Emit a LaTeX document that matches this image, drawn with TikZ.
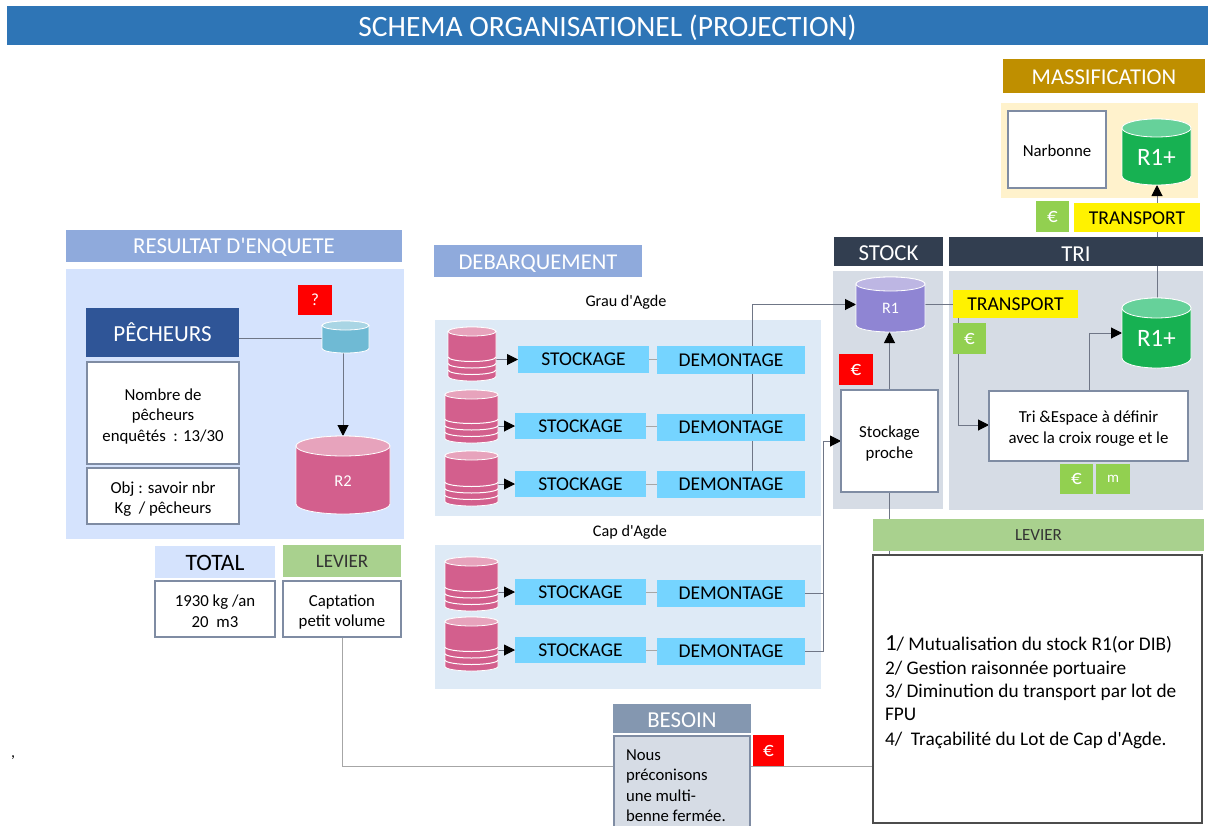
\documentclass[tikz,border=0pt]{standalone}
\usepackage{fontspec}
\setmainfont{Carlito}[Ligatures=TeXOff]
\usetikzlibrary{arrows.meta,calc}
\pgfdeclarelayer{panels}
\pgfdeclarelayer{links}
\pgfsetlayers{panels,links,main}
\definecolor{titleblue}{HTML}{2E75B6}
\definecolor{headblue}{HTML}{8FAADC}
\definecolor{paleblue}{HTML}{D5E3FD}
\definecolor{palesea}{HTML}{DEEAF6}
\definecolor{navy}{HTML}{2F5597}
\definecolor{slate}{HTML}{323E50}
\definecolor{palegray}{HTML}{D6DCE5}
\definecolor{gold}{HTML}{BF8F00}
\definecolor{cream}{HTML}{FFF2CC}
\definecolor{leaf}{HTML}{A9D18E}
\definecolor{eurogreen}{HTML}{92D050}
\definecolor{sky}{HTML}{75D4FF}
\definecolor{besoingray}{HTML}{8497B0}
\definecolor{rimgray}{HTML}{7F8CA3}
\definecolor{linkgray}{HTML}{6F7686}
\definecolor{rose}{HTML}{D35F8D}
\definecolor{rosetop}{HTML}{E7A3BC}
\definecolor{violet}{HTML}{8F85D3}
\definecolor{violettop}{HTML}{BDB6E3}
\definecolor{green1}{HTML}{17B152}
\definecolor{green1top}{HTML}{66D19A}
\definecolor{teal1}{HTML}{6FBAD4}
\definecolor{teal1top}{HTML}{A9D5E4}
\tikzset{
  x=1pt,y=-1pt,
  every node/.style={inner sep=0pt,outer sep=0pt,align=center},
  fs/.style={font=\fontsize{#1}{20.5}\selectfont},
  link/.style={draw=linkgray,line width=1pt},
  arrowlink/.style={link,-{Triangle[length=11pt,width=11pt,black]}},
  stoggle/.style={fill=sky,draw=none,fs=19.5},
}
% pushes the text of a node down by about #1 pt
\newcommand\dn[1]{\rule{0pt}{\dimexpr 0.75em+#1pt+#1pt\relax}}
% label of a cylinder: size, downward shift, text
\newcommand\cyltext[3]{\fontsize{#1}{#1}\selectfont\raisebox{-#2pt}[\height][\depth]{#3}}
% rectangle node from its corners: name, x1, y1, x2, y2, style, text
\newcommand\boxnode[7]{%
  \pgfmathsetmacro\bw{#4-#2}\pgfmathsetmacro\bh{#5-#3}%
  \pgfmathsetmacro\bx{(#2+#4)/2}\pgfmathsetmacro\by{(#3+#5)/2}%
  \node[minimum width=\bw pt,minimum height=\bh pt,#6] (#1) at (\bx,\by) {#7};}
% cylinder: name, x1, y1, x2, y2, body, top, ry, label
\newcommand\dbcyl[9]{%
  \pgfmathsetmacro\cw{#4-#2}\pgfmathsetmacro\ch{#5-#3}%
  \pgfmathsetmacro\cx{(#2+#4)/2}\pgfmathsetmacro\cy{(#3+#5)/2}%
  \pgfmathsetmacro\crx{(#4-#2)/2}%
  \pgfmathsetmacro\cya{#3+#8}\pgfmathsetmacro\cyb{#5-#8}%
  \draw[white,line width=0.8pt,fill=#6] (#2,\cya) -- (#2,\cyb)
     arc[start angle=180,end angle=360,x radius=\crx pt,y radius=#8 pt]
     -- (#4,\cya) arc[start angle=0,end angle=180,x radius=\crx pt,y radius=#8 pt] -- cycle;
  \draw[white,line width=0.8pt,fill=#7] (\cx,\cya) ellipse[x radius=\crx pt,y radius=#8 pt];
  \node[minimum width=\cw pt,minimum height=\ch pt,text=white] (#1) at (\cx,\cy) {#9};}
% three discs at the foot of a cylinder: x1, x2, y2, ry
\newcommand\dbdiscs[4]{%
  \pgfmathsetmacro\crx{(#2-#1)/2}%
  \foreach \off in {6.5,13,19.5}{%
    \pgfmathsetmacro\dy{#3-#4-\off}%
    \draw[white,line width=1pt] (#1,\dy) arc[start angle=180,end angle=360,x radius=\crx pt,y radius=#4 pt];}}
\begin{document}
\begin{tikzpicture}
\useasboundingbox (0,0) rectangle (1208,825);
% panels
\begin{pgfonlayer}{panels}
\fill[white] (0,0) rectangle (1208,825);
\fill[paleblue] (66,269) rectangle (404,539);
\fill[palesea] (435,320) rectangle (821,516);
\fill[palesea] (435,545) rectangle (821,689);
\fill[palegray] (833,271) rectangle (943,509);
\fill[palegray] (949,271) rectangle (1203,510);
\fill[cream] (1001,103) rectangle (1198,198);
\end{pgfonlayer}
% headers
\boxnode{title}{7}{6}{1208}{45}{fill=titleblue,text=white,fs=29.5}{\dn{2}SCHEMA ORGANISATIONEL (PROJECTION)}
\boxnode{massif}{1003}{59}{1205}{93}{fill=gold,text=white,fs=22.6}{\dn{0}MASSIFICATION}
\boxnode{resultat}{66}{230}{402}{262}{fill=headblue,text=white,fs=22.8}{\dn{0}RESULTAT D'ENQUETE}
\boxnode{debarq}{434}{245}{642}{277}{fill=headblue,text=white,fs=22.6}{\dn{1.5}DEBARQUEMENT}
\boxnode{stockh}{834}{237}{943}{266}{fill=slate,text=white,fs=22.8}{\dn{1}STOCK}
\boxnode{trih}{949}{237}{1203}{266}{fill=slate,text=white,fs=22.8}{\dn{1}TRI}
% left part
\boxnode{pecheurs}{86}{308}{239}{357}{fill=navy,text=white,fs=23}{PÊCHEURS}
\boxnode{nombre}{87}{362}{239}{464}{fill=white,draw=rimgray,line width=1.2pt,fs=16.8}{\dn{3}Nombre de\\pêcheurs\\enquêtés~ : 13/30}
\boxnode{obj}{87}{468}{239}{524}{fill=white,draw=rimgray,line width=1.2pt,fs=16.8}{\dn{2.5}Obj : savoir nbr\\Kg~ / pêcheurs}
\boxnode{quest}{298}{285}{332}{315}{fill=red,text=white,fs=17}{?}
\dbcyl{small}{322}{321}{369}{353}{teal1}{teal1top}{4.5}{}
\dbcyl{rtwo}{296}{436}{390}{514}{rose}{rosetop}{10}{\cyltext{16.5}{6}{R2}}
\boxnode{total}{155}{546}{275}{578}{fill=paleblue,fs=23.5}{\dn{0}TOTAL}
\boxnode{totalbox}{155}{581}{275}{637}{fill=white,draw=rimgray,line width=1.2pt,fs=16.8}{\dn{1.5}1930 kg /an\\20~ m3}
\boxnode{levierl}{283}{545}{401}{577}{fill=leaf,text=black!80,fs=19}{LEVIER}
\boxnode{levierlbox}{283}{581}{401}{637}{fill=white,draw=rimgray,line width=1.2pt,fs=16.8}{\dn{2.5}Captation\\petit volume}
% debarquement
\node[fs=16.2] (grau) at (626,302) {Grau d'Agde};
\node[fs=16.2] (cap) at (630,532) {Cap d'Agde};
\dbcyl{cA}{448}{327}{496}{381}{rose}{rosetop}{4.5}{}
\dbdiscs{448}{496}{381}{4.5}
\dbcyl{cB}{445}{390}{498}{443}{rose}{rosetop}{4.5}{}
\dbdiscs{445}{498}{443}{4.5}
\dbcyl{cC}{445}{451}{498}{506}{rose}{rosetop}{4.5}{}
\dbdiscs{445}{498}{506}{4.5}
\dbcyl{cD}{445}{557}{498}{611}{rose}{rosetop}{4.5}{}
\dbdiscs{445}{498}{611}{4.5}
\dbcyl{cE}{445}{617}{498}{671}{rose}{rosetop}{4.5}{}
\dbdiscs{445}{498}{671}{4.5}
\boxnode{sA}{518}{346}{649}{373}{stoggle}{STOCKAGE}
\boxnode{sB}{515}{413}{646}{439}{stoggle}{STOCKAGE}
\boxnode{sC}{515}{471}{646}{497}{stoggle}{STOCKAGE}
\boxnode{sD}{515}{579}{646}{605}{stoggle}{STOCKAGE}
\boxnode{sE}{515}{637}{646}{663}{stoggle}{STOCKAGE}
\boxnode{dA}{657}{346}{805}{374}{stoggle}{DEMONTAGE}
\boxnode{dB}{657}{414}{805}{441}{stoggle}{DEMONTAGE}
\boxnode{dC}{657}{471}{805}{498}{stoggle}{DEMONTAGE}
\boxnode{dD}{657}{580}{805}{607}{stoggle}{DEMONTAGE}
\boxnode{dE}{657}{638}{805}{665}{stoggle}{DEMONTAGE}
% stock
\dbcyl{rone}{856}{277}{925}{332}{violet}{violettop}{7}{\cyltext{16}{4}{R1}}
\boxnode{euroS}{839}{354}{873}{385}{fill=red,text=white,fs=21}{€}
\boxnode{proche}{841}{390}{938}{492}{fill=white,draw=rimgray,line width=1.2pt,fs=16.8}{\dn{2}Stockage\\proche}
% tri
\boxnode{transA}{953}{290}{1078}{318}{fill=yellow,fs=19.6}{TRANSPORT}
\boxnode{euroT}{953}{323}{986}{354}{fill=eurogreen,text=white,fs=21}{€}
\dbcyl{rplusA}{1122}{298}{1191}{368}{green1}{green1top}{10}{\cyltext{25}{5.5}{R1+}}
\boxnode{tribox}{989}{391}{1188}{461}{fill=white,draw=rimgray,line width=1.2pt,fs=16.8}{\dn{2}Tri \&Espace à définir\\avec la croix rouge et le}
\boxnode{euroU}{1060}{464}{1093}{494}{fill=eurogreen,text=white,fs=21}{€}
\boxnode{metre}{1096}{464}{1130}{494}{fill=eurogreen,text=white,fs=15}{m}
% massification
\boxnode{narbonne}{1008}{111}{1106}{188}{fill=white,draw=rimgray,line width=1.2pt,fs=16.8}{\dn{1}Narbonne}
\dbcyl{rplusB}{1122}{119}{1191}{185}{green1}{green1top}{9}{\cyltext{25}{5.5}{R1+}}
\boxnode{transB}{1074}{203}{1200}{232}{fill=yellow,fs=19.6}{\dn{0}TRANSPORT}
\boxnode{euroV}{1036}{201}{1069}{232}{fill=eurogreen,text=white,fs=21}{€}
% levier
\boxnode{levierr}{873}{519}{1204}{551}{fill=leaf,text=black!80,fs=17}{LEVIER}
\boxnode{levierbox}{873}{555}{1202}{823}{fill=white,draw=black!70,line width=1.2pt}{}
\node[anchor=base west,fs=19.3] (lA) at (885,650) {{\fontsize{23}{26}\selectfont 1}/ Mutualisation du stock R1(or DIB)};
\node[anchor=base west,fs=19.3] (lB) at (885,674) {2/ Gestion raisonnée portuaire};
\node[anchor=base west,fs=19.3] (lC) at (885,697) {3/ Diminution du transport par lot de};
\node[anchor=base west,fs=19.3] (lD) at (885,720) {FPU};
\node[anchor=base west,fs=19.3] (lE) at (885,745) {4/~ Traçabilité du Lot de Cap d'Agde.};
% besoin
\boxnode{besoin}{613}{704}{751}{733}{fill=besoingray,text=white,fs=22.8}{\dn{1}BESOIN}
\boxnode{besoinbox}{614}{736}{750}{835}{fill=palegray,draw=rimgray,line width=1.2pt}{}
\node[anchor=base west,fs=16.7] (bA) at (626,760) {Nous};
\node[anchor=base west,fs=16.7] (bB) at (626,780) {préconisons};
\node[anchor=base west,fs=16.7] (bC) at (626,801) {une multi-};
\node[anchor=base west,fs=16.7] (bD) at (626,821) {benne fermée.};
\boxnode{euroB}{753}{735}{784}{766}{fill=red,text=white,fs=21}{€}
\node[fs=16] (comma) at (13,758) {,};
% connector helpers
\coordinate (busA) at (752,470);
\coordinate (busB) at (823,441);
\coordinate (turnT) at (958,425);
\coordinate (turnU) at (1089,333);
\coordinate (upA) at (1157,298);
\coordinate (lowL) at (343,766);
\begin{pgfonlayer}{links}
\draw[link] (pecheurs.east |- 0,338) -- (small.west |- 0,338);
\draw[arrowlink] (rtwo.north |- small.south) -- (rtwo.north);
\foreach \c/\s in {cA/sA,cB/sB,cC/sC,cD/sD,cE/sE}
  \draw[arrowlink] (\c.east |- \s.west) -- (\s.west);
\foreach \s/\d in {sA/dA,sB/dB,sC/dC,sD/dD,sE/dE}
  \draw[link,draw=gray!70] (\s.east) -- (\s.east -| \d.west);
\draw[arrowlink] (busA |- dC.north) |- (rone.west);
\draw[link] (dD.east) -| (busB);
\draw[arrowlink] (dE.east) -| (busB) -- (proche.west);
\draw[arrowlink] (proche.north) -- (proche.north |- rone.south);
\draw[link] (proche.south) -- (proche.south |- levierbox.north);
\draw[link] (rone.east |- transA.west) -- (transA.west);
\draw[arrowlink] (turnT |- transA.south) |- (tribox.west |- turnT);
\draw[arrowlink] (turnU |- tribox.north) |- (rplusA.west |- turnU);
\draw[arrowlink] (upA) -- (upA |- rplusB.south);
\draw[link,draw=gray!70] (levierlbox.south) |- (besoinbox.west |- lowL);
\draw[link,draw=gray!70] (besoinbox.east |- lowL) -- (levierbox.west |- lowL);
\end{pgfonlayer}
\end{tikzpicture}
\end{document}
